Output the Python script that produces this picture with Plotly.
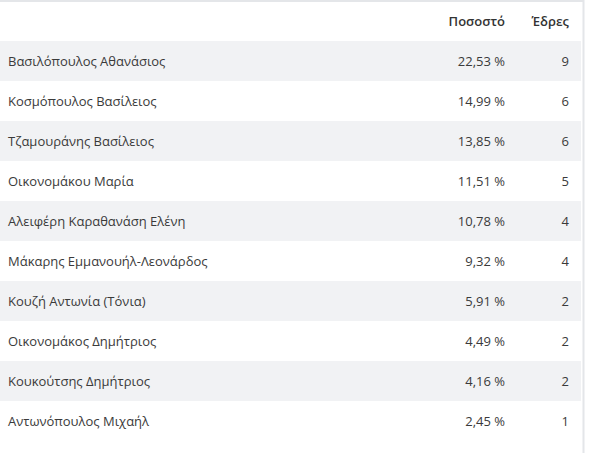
import plotly.graph_objects as go

# Υποψήφιοι, ποσοστά και έδρες
names = ['Βασιλόπουλος Αθανάσιος', 'Κοσμόπουλος Βασίλειος', 'Τζαμουράνης Βασίλειος',
         'Οικονομάκου Μαρία', 'Αλειφέρη Καραθανάση Ελένη', 'Μάκαρης Εμμανουήλ-Λεονάρδος',
         'Κουζή Αντωνία (Τόνια)', 'Οικονομάκος Δημήτριος', 'Κουκούτσης Δημήτριος',
         'Αντωνόπουλος Μιχαήλ']
pct = [22.53, 14.99, 13.85, 11.51, 10.78, 9.32, 5.91, 4.49, 4.16, 2.45]
seats = [9, 6, 6, 5, 4, 4, 2, 2, 2, 1]

headers = ['', 'Ποσοστό', 'Έδρες']
pct_txt = [f'{p:.2f} %'.replace('.', ',') for p in pct]

W, H = 602, 453
clear = 'rgba(0,0,0,0)'
family = 'Open Sans, Noto Sans, sans-serif'

fig = go.Figure(go.Table(
    domain=dict(x=[0, 577 / W], y=[0, 445 / H]),
    columnwidth=[440, 73, 64],
    header=dict(values=headers, height=40, align=['left', 'right', 'right'],
                fill_color=clear, line_color=clear,
                font=dict(family=family, size=13, color='#333333', weight=600)),
    cells=dict(values=[names, pct_txt, seats], height=40,
               align=['left', 'right', 'right'],
               fill_color=clear, line_color=clear,
               font=dict(family=family, size=13, color='#3a3a3a')),
))

# ζώνες εναλλασσόμενων γραμμών (γκρι / λευκό)
shapes = []
for i in range(0, len(names), 2):
    top = 41 + 40 * i
    shapes.append(dict(type='rect', xref='paper', yref='paper', layer='below',
                       x0=0, x1=581 / W, y0=1 - (top + 40) / H, y1=1 - top / H,
                       fillcolor='#f1f2f4', line_width=0))
# περίγραμμα πάνω και δεξιά
shapes.append(dict(type='line', xref='paper', yref='paper', x0=0, x1=584 / W,
                   y0=1 - 1 / H, y1=1 - 1 / H, line=dict(color='#e4e6e9', width=2)))
shapes.append(dict(type='line', xref='paper', yref='paper', x0=583.5 / W, x1=583.5 / W,
                   y0=0, y1=1, line=dict(color='#e4e6e9', width=2)))

fig.update_layout(
    width=W, height=H,
    margin=dict(l=0, r=0, t=0, b=0),
    paper_bgcolor='white',
    plot_bgcolor='white',
    shapes=shapes,
)

fig.write_html("out.html", config={'displayModeBar': False},
               post_script="document.body.style.margin='0';")
